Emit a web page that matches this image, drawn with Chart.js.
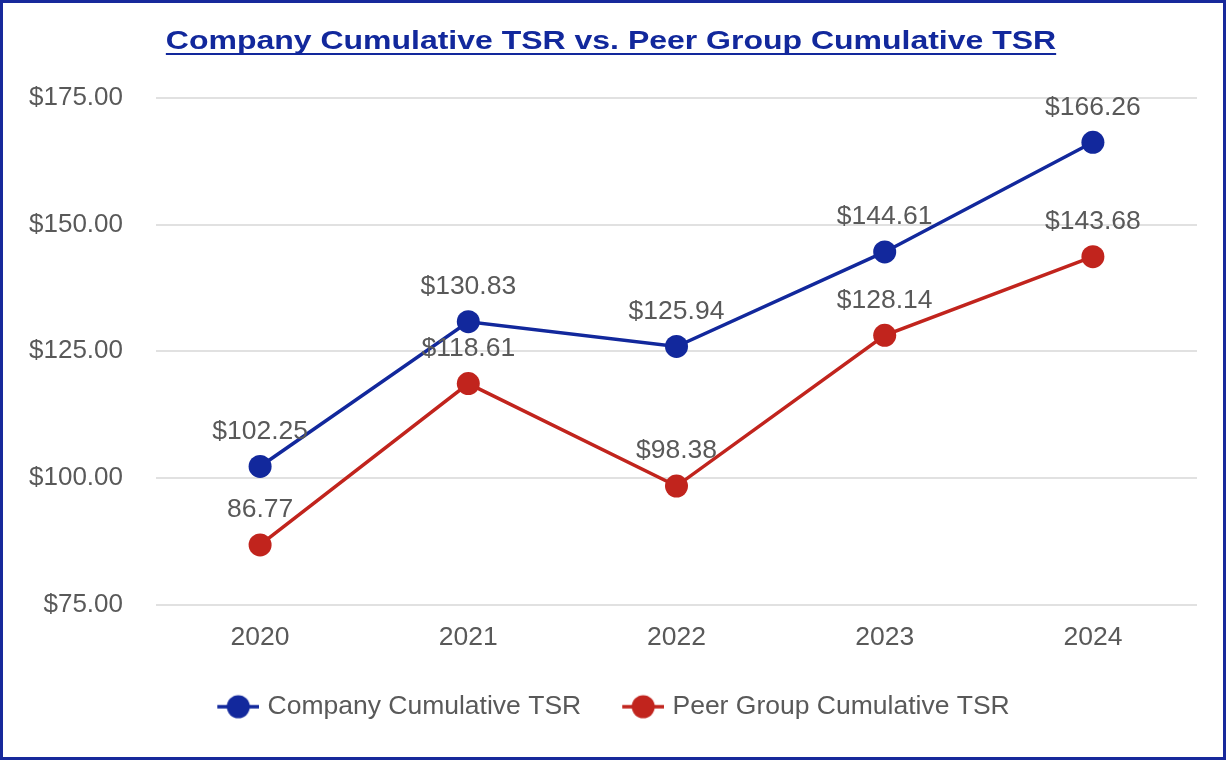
<!DOCTYPE html>
<html lang="en">
<head>
    <meta charset="UTF-8">
    <title>Company Cumulative TSR vs. Peer Group Cumulative TSR</title>
    <script src="https://cdn.jsdelivr.net/npm/chart.js"></script>
    <style>
        body { margin: 0; background: #ffffff; }
        .frame { width: 1226px; height: 760px; box-sizing: border-box; border: 3px solid #17299b; background: #ffffff; }
        .frame canvas { display: block; }
    </style>
</head>
<body>
    <div class="frame">
        <canvas id="tsrChart" width="1220" height="754"></canvas>
    </div>

    <script>
        // chart data
        const chartTitle = 'Company Cumulative TSR vs. Peer Group Cumulative TSR';
        const years = ['2020', '2021', '2022', '2023', '2024'];
        const companyTSR = [102.25, 130.83, 125.94, 144.61, 166.26];
        const peerTSR = [86.77, 118.61, 98.38, 128.14, 143.68];
        const companyLabels = ['$102.25', '$130.83', '$125.94', '$144.61', '$166.26'];
        const peerLabels = ['86.77', '$118.61', '$98.38', '$128.14', '$143.68'];

        const BLUE = '#12289c';
        const RED = '#c1241d';
        const GREY = '#595959';
        const FONT = "'Liberation Sans', Arial, sans-serif";

        // legend marker: short line with a dot on it (blank strip on the left = extra gap between items)
        function legendMarker(color) {
            const c = document.createElement('canvas');
            c.width = 48;
            c.height = 26;
            const g = c.getContext('2d');
            g.strokeStyle = color;
            g.lineWidth = 3.5;
            g.beginPath();
            g.moveTo(6, 13);
            g.lineTo(48, 13);
            g.stroke();
            g.fillStyle = color;
            g.beginPath();
            g.arc(27, 13, 11.5, 0, Math.PI * 2);
            g.fill();
            return c;
        }

        // values written above each point
        const pointLabels = {
            id: 'pointLabels',
            afterDatasetsDraw(chart) {
                const ctx = chart.ctx;
                ctx.save();
                ctx.font = '26.5px ' + FONT;
                ctx.fillStyle = GREY;
                ctx.textAlign = 'center';
                ctx.textBaseline = 'middle';
                chart.data.datasets.forEach((ds, i) => {
                    chart.getDatasetMeta(i).data.forEach((pt, j) => {
                        ctx.fillText(ds.valueLabels[j], pt.x, pt.y - 35);
                    });
                });
                ctx.restore();
            }
        };

        // bold underlined title, a little wide like the original
        const underlinedTitle = {
            id: 'underlinedTitle',
            afterDraw(chart) {
                const ctx = chart.ctx;
                const cx = chart.width / 2 - 2;
                const baseline = 46;
                const sx = 1.23;
                ctx.save();
                ctx.font = 'bold 26px ' + FONT;
                const w = ctx.measureText(chartTitle).width * sx;
                ctx.fillStyle = BLUE;
                ctx.textAlign = 'center';
                ctx.textBaseline = 'alphabetic';
                ctx.translate(cx, baseline);
                ctx.scale(sx, 1);
                ctx.fillText(chartTitle, 0, 0);
                ctx.restore();
                ctx.save();
                ctx.strokeStyle = BLUE;
                ctx.lineWidth = 2;
                ctx.beginPath();
                ctx.moveTo(cx - w / 2, baseline + 5);
                ctx.lineTo(cx + w / 2, baseline + 5);
                ctx.stroke();
                ctx.restore();
            }
        };

        const ctx = document.getElementById('tsrChart').getContext('2d');
        const tsrChart = new Chart(ctx, {
            type: 'line',
            data: {
                labels: years,
                datasets: [{
                    label: 'Company Cumulative TSR',
                    data: companyTSR,
                    valueLabels: companyLabels,
                    borderColor: BLUE,
                    backgroundColor: BLUE,
                    borderWidth: 3.5,
                    pointRadius: 11.5,
                    pointHoverRadius: 11.5,
                    pointBorderWidth: 0,
                    pointBackgroundColor: BLUE,
                    tension: 0,
                }, {
                    label: 'Peer Group Cumulative TSR',
                    data: peerTSR,
                    valueLabels: peerLabels,
                    borderColor: RED,
                    backgroundColor: RED,
                    borderWidth: 3.5,
                    pointRadius: 11.5,
                    pointHoverRadius: 11.5,
                    pointBorderWidth: 0,
                    pointBackgroundColor: RED,
                    tension: 0,
                }]
            },
            options: {
                responsive: false,
                animation: false,
                layout: { padding: { top: 95, left: 26, right: 26, bottom: 27 } },
                scales: {
                    x: {
                        offset: true,
                        grid: { display: false, drawTicks: false },
                        border: { display: false },
                        ticks: { color: GREY, font: { family: FONT, size: 26.5 }, padding: 17 },
                        afterFit(scale) { scale.height = 49; },
                    },
                    y: {
                        min: 75,
                        max: 175,
                        border: { display: false },
                        grid: { color: '#e1e1e1', lineWidth: 2, drawTicks: false },
                        ticks: {
                            stepSize: 25,
                            color: GREY,
                            padding: 33,
                            font: { family: FONT, size: 26 },
                            callback: v => '$' + v.toFixed(2),
                        },
                        afterFit(scale) { scale.width = 127; },
                    }
                },
                plugins: {
                    title: { display: false },
                    legend: {
                        position: 'bottom',
                        labels: {
                            color: GREY,
                            font: { family: FONT, size: 26.5 },
                            usePointStyle: true,
                            pointStyleWidth: 38,
                            padding: 40,
                            generateLabels(chart) {
                                return chart.data.datasets.map((ds, i) => ({
                                    text: ds.label,
                                    datasetIndex: i,
                                    fontColor: GREY,
                                    pointStyle: legendMarker(ds.borderColor),
                                    lineWidth: 0,
                                    strokeStyle: ds.borderColor,
                                    fillStyle: ds.borderColor,
                                }));
                            }
                        }
                    },
                    tooltip: { enabled: false }
                }
            },
            plugins: [pointLabels, underlinedTitle]
        });
    </script>
</body>
</html>
